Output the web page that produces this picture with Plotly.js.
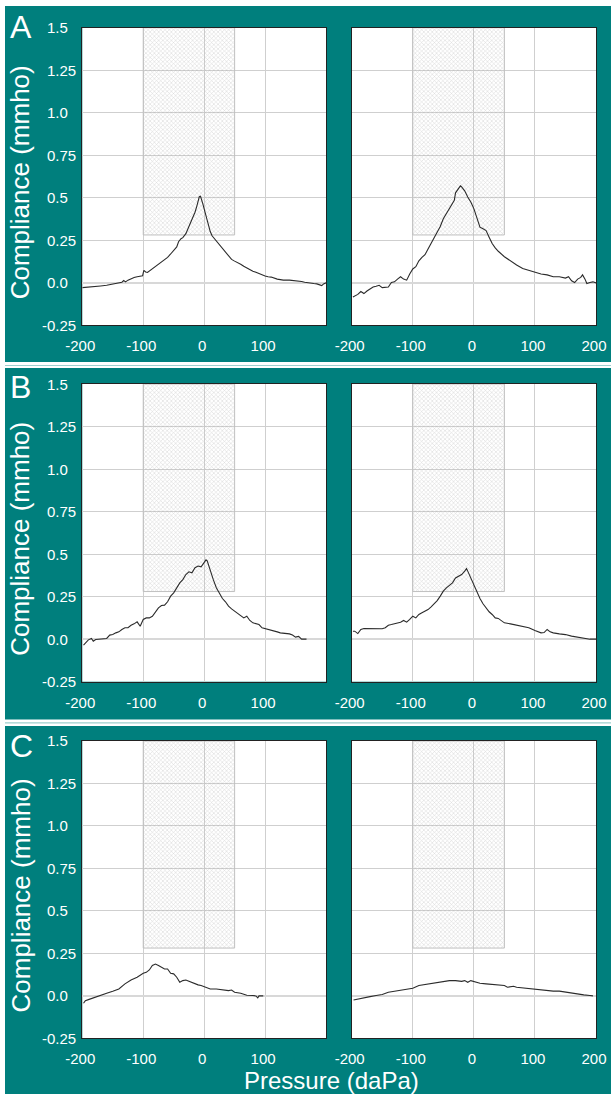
<!DOCTYPE html>
<html><head><meta charset="utf-8">
<script src="https://cdn.plot.ly/plotly-3.0.1.min.js"></script>
<style>html,body{margin:0;padding:0;background:#fff;}#chart{width:611px;height:1094px;}</style>
</head><body><div id="chart"></div>
<script>
// ---- data ----
const pressureA1 = [-200,-190,-180,-170,-160,-150,-140,-135,-132,-129,-125,-120,-115,-110,-105,-101,-99,-96,-93,-90,-85,-80,-75,-70,-65,-60,-55,-50,-45,-42,-38,-35,-30,-25,-20,-15,-12,-10,-8,-6,-4,-2,0,3,5,8,10,13,16,20,25,30,35,40,45,50,55,60,65,70,75,80,85,90,95,100,105,110,120,125,130,140,150,160,165,170,175,180,185,190,193,196,200];
const complianceA1 = [-0.030,-0.028,-0.024,-0.020,-0.016,-0.010,-0.004,0.002,0.012,0.004,0.014,0.024,0.030,0.034,0.036,0.040,0.072,0.062,0.060,0.068,0.080,0.094,0.106,0.118,0.132,0.148,0.168,0.188,0.210,0.240,0.258,0.264,0.288,0.330,0.368,0.414,0.450,0.482,0.505,0.508,0.488,0.462,0.434,0.395,0.358,0.320,0.300,0.275,0.262,0.244,0.222,0.200,0.176,0.154,0.136,0.126,0.118,0.108,0.096,0.086,0.074,0.066,0.060,0.052,0.044,0.038,0.034,0.032,0.020,0.016,0.014,0.014,0.012,0.006,0.002,-0.002,-0.004,-0.006,-0.008,-0.014,-0.018,-0.008,-0.002];

const pressureA2 = [-198,-190,-185,-180,-175,-170,-165,-160,-155,-150,-145,-140,-135,-130,-125,-120,-115,-110,-105,-100,-95,-90,-85,-80,-75,-70,-65,-60,-55,-50,-45,-40,-35,-32,-30,-25,-22,-20,-15,-10,-5,0,5,10,15,20,25,30,35,40,50,60,70,80,90,100,110,120,130,140,145,150,155,160,165,170,175,178,182,185,190,195,200];
const complianceA2 = [-0.085,-0.070,-0.053,-0.065,-0.050,-0.038,-0.026,-0.022,-0.016,-0.030,-0.030,-0.026,0.000,0.004,0.020,0.034,0.020,0.014,0.050,0.080,0.093,0.128,0.148,0.164,0.198,0.230,0.267,0.296,0.330,0.375,0.405,0.435,0.460,0.484,0.528,0.553,0.569,0.563,0.540,0.504,0.474,0.435,0.375,0.326,0.316,0.306,0.267,0.230,0.204,0.184,0.152,0.125,0.103,0.083,0.073,0.059,0.050,0.045,0.034,0.034,0.030,0.026,0.034,0.010,0.000,0.020,0.030,0.045,0.020,-0.006,0.000,0.004,-0.002];

const pressureB1 = [-198,-195,-190,-185,-182,-178,-170,-160,-155,-150,-145,-140,-135,-130,-125,-120,-115,-110,-105,-100,-95,-90,-85,-80,-75,-70,-65,-60,-55,-50,-45,-40,-35,-30,-25,-20,-15,-10,-5,0,3,5,10,15,20,25,30,35,40,45,50,55,60,65,70,75,80,90,95,100,110,120,125,130,140,145,150,155,160,165,168];
const complianceB1 = [-0.035,-0.022,-0.004,0.004,-0.012,-0.002,0.000,0.004,0.024,0.027,0.037,0.043,0.057,0.067,0.067,0.082,0.090,0.102,0.076,0.116,0.125,0.125,0.135,0.161,0.184,0.198,0.200,0.220,0.253,0.272,0.302,0.331,0.350,0.380,0.396,0.390,0.420,0.430,0.425,0.450,0.466,0.460,0.400,0.350,0.302,0.266,0.239,0.220,0.194,0.178,0.165,0.155,0.141,0.125,0.135,0.110,0.096,0.086,0.067,0.063,0.055,0.043,0.037,0.035,0.031,0.024,0.012,0.016,0.000,0.000,0.000];

const pressureB2 = [-198,-195,-190,-185,-180,-170,-160,-150,-145,-140,-135,-130,-125,-120,-115,-110,-105,-100,-95,-90,-85,-80,-75,-70,-65,-60,-55,-50,-45,-40,-35,-30,-25,-20,-15,-12,-10,-5,0,5,10,15,20,25,30,35,40,50,60,70,80,90,100,110,115,120,125,130,140,150,160,170,180,190,200];
const complianceB2 = [0.047,0.047,0.033,0.057,0.063,0.063,0.061,0.061,0.067,0.082,0.086,0.090,0.096,0.100,0.110,0.100,0.116,0.135,0.125,0.145,0.155,0.165,0.174,0.190,0.208,0.227,0.253,0.282,0.302,0.314,0.331,0.360,0.370,0.380,0.400,0.415,0.400,0.360,0.321,0.272,0.239,0.208,0.184,0.161,0.145,0.125,0.122,0.096,0.090,0.082,0.071,0.067,0.051,0.037,0.039,0.057,0.043,0.037,0.031,0.027,0.018,0.012,0.004,0.000,0.000];

const pressureC1 = [-198,-195,-190,-180,-170,-160,-150,-140,-130,-120,-110,-100,-95,-90,-85,-80,-75,-70,-65,-60,-55,-50,-45,-40,-35,-30,-25,-20,-15,-10,-5,0,5,10,20,30,40,45,50,60,70,80,85,88,90,97];
const complianceC1 = [-0.045,-0.030,-0.024,-0.010,0.000,0.014,0.026,0.039,0.069,0.092,0.108,0.131,0.137,0.151,0.177,0.186,0.177,0.167,0.157,0.157,0.131,0.128,0.108,0.078,0.088,0.092,0.084,0.078,0.069,0.063,0.059,0.053,0.049,0.039,0.039,0.033,0.029,0.033,0.020,0.014,0.002,0.000,-0.002,-0.014,-0.002,-0.002];

const pressureC2 = [-197,-190,-180,-170,-160,-150,-140,-130,-120,-110,-100,-90,-80,-70,-60,-50,-40,-30,-20,-15,-10,-5,0,5,10,20,30,40,50,55,60,65,70,80,90,100,110,120,130,140,150,160,170,180,190,195];
const complianceC2 = [-0.026,-0.020,-0.014,-0.006,0.000,0.006,0.020,0.026,0.033,0.037,0.043,0.059,0.065,0.073,0.078,0.084,0.088,0.088,0.084,0.088,0.078,0.088,0.084,0.076,0.073,0.069,0.065,0.059,0.059,0.049,0.053,0.055,0.049,0.045,0.039,0.039,0.033,0.029,0.026,0.026,0.020,0.014,0.006,0.004,0.000,-0.002];

const normalPressure = [-100, 50];
const normalCompliance = [0.28, 1.5];

const panelLabels = ['A', 'B', 'C'];
const xTickValsLeft = [-200, -100, 0, 100];
const xTickValsRight = [-200, -100, 0, 100, 200];
const yTickVals = [1.5, 1.25, 1.0, 0.75, 0.5, 0.25, 0.0, -0.25];
const yTickText = ['1.5', '1.25', '1.0', '0.75', '0.5', '0.25', '0.0', '-0.25'];
const yTitle = 'Compliance (mmho)';
const xTitle = 'Pressure (daPa)';

const series = [
  [pressureA1, complianceA1], [pressureA2, complianceA2],
  [pressureB1, complianceB1], [pressureB2, complianceB2],
  [pressureC1, complianceC1], [pressureC2, complianceC2]
];

// ---- layout ----
const W = 611, H = 1094;
const TEAL = '#007f7d';
const FONT = 'Liberation Sans, Arial, Helvetica, sans-serif';
const px = v => v / W;
const py = v => 1 - v / H;
const cols = [[82.3, 326], [351.7, 596]];
const rows = [[27.7, 325], [384, 681.7], [741, 1038]];

const data = [];
const layout = {
  width: W, height: H,
  margin: {l: 0, r: 0, t: 0, b: 0, pad: 0},
  paper_bgcolor: TEAL, plot_bgcolor: '#ffffff',
  showlegend: false,
  font: {family: FONT, color: '#ffffff', size: 15},
  annotations: [], shapes: []
};

for (let r = 0; r < 3; r++) {
  for (let c = 0; c < 2; c++) {
    const k = r * 2 + c + 1;
    const sfx = k === 1 ? '' : String(k);
    const xa = 'x' + sfx, ya = 'y' + sfx;
    const [xs, ys] = series[k - 1];

    data.push({
      type: 'bar', xaxis: xa, yaxis: ya,
      x: [(normalPressure[0] + normalPressure[1]) / 2],
      width: [normalPressure[1] - normalPressure[0]],
      base: [normalCompliance[0]],
      y: [normalCompliance[1] - normalCompliance[0]],
      marker: {
        color: 'rgba(255,255,255,0)',
        line: {color: '#c0c0c0', width: 1},
        pattern: {shape: 'x', size: 3, solidity: 0.3, fgcolor: '#a8a8a8', bgcolor: 'rgba(255,255,255,0)', fillmode: 'overlay'}
      },
      hoverinfo: 'skip'
    });
    data.push({
      type: 'scatter', mode: 'lines', xaxis: xa, yaxis: ya,
      x: xs, y: ys,
      line: {color: '#2b2b2b', width: 1.1},
      hoverinfo: 'skip'
    });

    layout['xaxis' + sfx] = {
      domain: [px(cols[c][0]), px(cols[c][1])],
      anchor: ya, range: [-200, 200],
      tickmode: 'array', tickvals: c === 0 ? xTickValsLeft : xTickValsRight,
      ticktext: (c === 0 ? xTickValsLeft : xTickValsRight).map(String),
      ticks: '', ticklabelstandoff: 7, ticklabelshift: -2,
      tickfont: {family: FONT, size: 15, color: '#ffffff'},
      showgrid: true, gridcolor: '#cfcfcf', gridwidth: 1,
      zeroline: true, zerolinecolor: '#cfcfcf', zerolinewidth: 1,
      showline: true, mirror: true, linecolor: '#222222', linewidth: 1,
      fixedrange: true
    };
    layout['yaxis' + sfx] = {
      domain: [py(rows[r][1]), py(rows[r][0])],
      anchor: xa, range: [-0.25, 1.5],
      tickmode: 'array', tickvals: yTickVals, showticklabels: false,
      ticks: '',
      showgrid: true, gridcolor: '#cfcfcf', gridwidth: 1,
      zeroline: true, zerolinecolor: '#d8d8d8', zerolinewidth: 2,
      showline: true, mirror: true, linecolor: '#222222', linewidth: 1,
      fixedrange: true
    };

    if (c === 0) {
      yTickVals.forEach((v, i) => {
        const t = yTickText[i];
        layout.annotations.push({
          xref: 'paper', yref: ya, x: px(45), y: v,
          xanchor: 'left', yanchor: 'middle',
          xshift: t.startsWith('-') ? -5 : 0,
          text: t, showarrow: false,
          font: {family: FONT, size: 15, color: '#ffffff'}
        });
      });
      layout.annotations.push({
        xref: 'paper', yref: 'paper',
        x: px(20), y: py((rows[r][0] + rows[r][1]) / 2 + 6),
        xanchor: 'center', yanchor: 'middle', textangle: -90,
        text: yTitle, showarrow: false,
        font: {family: FONT, size: 26, color: '#ffffff'}
      });
    }
  }
}

// panel letters
const letterCapMid = [25, 384.5, 744];
panelLabels.forEach((L, i) => {
  layout.annotations.push({
    xref: 'paper', yref: 'paper', x: px(8), y: py(letterCapMid[i] + 2),
    xanchor: 'left', yanchor: 'middle',
    text: L, showarrow: false,
    font: {family: FONT, size: 32, color: '#ffffff'}
  });
});

// x title
layout.annotations.push({
  xref: 'paper', yref: 'paper', x: px(331), y: py(1080),
  xanchor: 'center', yanchor: 'middle',
  text: xTitle, showarrow: false,
  font: {family: FONT, size: 24, color: '#ffffff'}
});

// white gaps between teal panels
const white = {type: 'rect', xref: 'paper', yref: 'paper', line: {width: 0}, fillcolor: '#ffffff', layer: 'below'};
layout.shapes.push(Object.assign({}, white, {x0: 0, x1: 1, y0: py(6), y1: 1}));
layout.shapes.push(Object.assign({}, white, {x0: 0, x1: px(5), y0: 0, y1: 1}));
layout.shapes.push(Object.assign({}, white, {x0: 0, x1: 1, y0: py(368), y1: py(362)}));
layout.shapes.push(Object.assign({}, white, {x0: 0, x1: 1, y0: py(726), y1: py(719.5)}));
[365.5, 722.8].forEach(yy => {
  layout.shapes.push({type: 'line', xref: 'paper', yref: 'paper', x0: px(5), x1: 1, y0: py(yy), y1: py(yy),
    line: {color: '#9dcfcd', width: 1.2}, layer: 'below'});
});

Plotly.newPlot('chart', data, layout, {staticPlot: true, displayModeBar: false, responsive: false});
</script>
</body></html>
